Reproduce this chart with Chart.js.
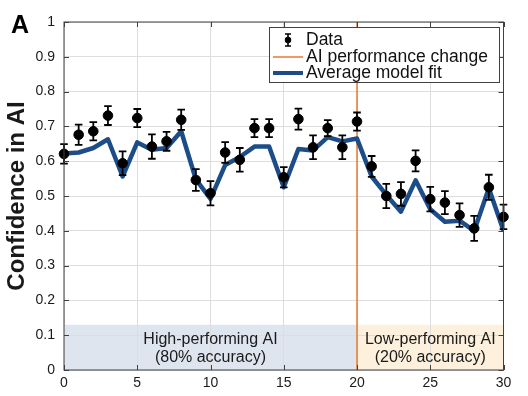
<!DOCTYPE html>
<html>
<head>
<meta charset="utf-8">
<script src="https://cdn.jsdelivr.net/npm/chart.js@4.4.0/dist/chart.umd.min.js"></script>
<style>
    html, body { margin: 0; padding: 0; background: #fff; }
    #wrap { width: 528px; height: 396px; }
</style>
</head>
<body>
<div id="wrap"><canvas id="myChart" width="528" height="396"></canvas></div>
<script>

// trial numbers along the x axis
const trials = [0, 1, 2, 3, 4, 5, 6, 7, 8, 9, 10, 11, 12, 13, 14, 15, 16, 17, 18, 19, 20, 21, 22, 23, 24, 25, 26, 27, 28, 29, 30];

// mean confidence in AI per trial (black dots) and error bar half heights
const confidence = [0.621, 0.676, 0.686, 0.731, 0.594, 0.724, 0.642, 0.657, 0.719, 0.546, 0.508, 0.625, 0.604, 0.695, 0.695, 0.554, 0.721, 0.640, 0.695, 0.640, 0.714, 0.585, 0.500, 0.506, 0.601, 0.491, 0.481, 0.445, 0.407, 0.525, 0.440];
const confidenceErr = [0.028, 0.029, 0.026, 0.027, 0.034, 0.026, 0.035, 0.027, 0.029, 0.031, 0.035, 0.030, 0.034, 0.026, 0.026, 0.029, 0.030, 0.034, 0.023, 0.034, 0.026, 0.030, 0.035, 0.034, 0.030, 0.035, 0.033, 0.034, 0.036, 0.036, 0.035];

// average model fit (blue line)
const modelFit = [0.622, 0.625, 0.638, 0.663, 0.556, 0.654, 0.633, 0.638, 0.686, 0.548, 0.492, 0.589, 0.612, 0.642, 0.642, 0.525, 0.635, 0.631, 0.669, 0.657, 0.665, 0.556, 0.503, 0.455, 0.545, 0.462, 0.426, 0.429, 0.400, 0.522, 0.400];

// where the AI switches from high to low performance
const changeTrial = 20;
const xTicks = [0, 5, 10, 15, 20, 25, 30];
const yTicks = [0, 0.1, 0.2, 0.3, 0.4, 0.5, 0.6, 0.7, 0.8, 0.9, 1];

// shaded phases at the bottom of the plot
const phases = [
    { from: 0, to: 20, top: 0.13, fill: '#dfe5ef', lines: ['High-performing AI', '(80% accuracy)'] },
    { from: 20, to: 30, top: 0.13, fill: '#fdf0dd', lines: ['Low-performing AI', '(20% accuracy)'] }
];

const legendItems = ['Data', 'AI performance change', 'Average model fit'];

const FONT = "'Liberation Sans', Arial, Helvetica, sans-serif";
const ORANGE = '#e8782f';
const BLUE = '#1d4d88';
const AXIS = '#404040';

Chart.defaults.font.family = FONT;

// phase shading goes under the grid lines
const phasePlugin = {
    id: 'phases',
    beforeDraw(chart) {
        const { ctx, scales: { x, y } } = chart;
        ctx.save();
        phases.forEach(p => {
            ctx.fillStyle = p.fill;
            ctx.fillRect(x.getPixelForValue(p.from), y.getPixelForValue(p.top),
                x.getPixelForValue(p.to) - x.getPixelForValue(p.from), y.getPixelForValue(0) - y.getPixelForValue(p.top));
        });
        ctx.restore();
    },
    beforeDatasetsDraw(chart) {
        const { ctx, scales: { x, y } } = chart;
        ctx.save();
        ctx.font = '16px ' + FONT;
        ctx.fillStyle = '#1a1a1a';
        ctx.textAlign = 'center';
        ctx.textBaseline = 'middle';
        phases.forEach(p => {
            const cx = x.getPixelForValue((p.from + p.to) / 2);
            ctx.fillText(p.lines[0], cx, y.getPixelForValue(0.088));
            ctx.fillText(p.lines[1], cx, y.getPixelForValue(0.036));
        });
        ctx.restore();
    }
};

// error bars, box, inward ticks, legend and panel letter
const decorPlugin = {
    id: 'decor',
    afterDatasetsDraw(chart) {
        const { ctx, scales: { x, y } } = chart;
        ctx.save();
        ctx.strokeStyle = '#000';
        ctx.lineWidth = 1.8;
        for (let i = 0; i < trials.length; i++) {
            const px = x.getPixelForValue(trials[i]);
            const top = y.getPixelForValue(confidence[i] + confidenceErr[i]);
            const bot = y.getPixelForValue(confidence[i] - confidenceErr[i]);
            ctx.beginPath();
            ctx.moveTo(px, top); ctx.lineTo(px, bot);
            ctx.moveTo(px - 3.8, top); ctx.lineTo(px + 3.8, top);
            ctx.moveTo(px - 3.8, bot); ctx.lineTo(px + 3.8, bot);
            ctx.stroke();
        }
        ctx.restore();
    },
    afterDraw(chart) {
        const { ctx, chartArea: a, scales: { x, y } } = chart;
        ctx.save();

        // axes box with inward ticks on all four sides
        ctx.strokeStyle = AXIS;
        ctx.lineWidth = 1;
        ctx.strokeRect(a.left, a.top, a.right - a.left, a.bottom - a.top);
        ctx.beginPath();
        xTicks.forEach(v => {
            const px = Math.round(x.getPixelForValue(v)) + 0.5;
            ctx.moveTo(px, a.bottom); ctx.lineTo(px, a.bottom - 5);
            ctx.moveTo(px, a.top); ctx.lineTo(px, a.top + 5);
        });
        yTicks.forEach(v => {
            const py = Math.round(y.getPixelForValue(v)) + 0.5;
            ctx.moveTo(a.left, py); ctx.lineTo(a.left + 5, py);
            ctx.moveTo(a.right, py); ctx.lineTo(a.right - 5, py);
        });
        ctx.stroke();

        // legend box in the top right corner
        const lx = 269, ly = 27, lw = 230, lh = 55;
        ctx.fillStyle = '#fff';
        ctx.fillRect(lx, ly, lw, lh);
        ctx.strokeStyle = AXIS;
        ctx.strokeRect(lx + 0.5, ly + 0.5, lw, lh);

        const rows = [40, 57, 73];
        ctx.font = '17.5px ' + FONT;
        ctx.fillStyle = '#111';
        ctx.textBaseline = 'middle';
        legendItems.forEach((t, i) => ctx.fillText(t, 306, rows[i]));

        // data marker sample
        ctx.strokeStyle = '#000';
        ctx.lineWidth = 1.6;
        ctx.beginPath();
        ctx.moveTo(288, rows[0] - 6); ctx.lineTo(288, rows[0] + 6);
        ctx.moveTo(285, rows[0] - 6); ctx.lineTo(291, rows[0] - 6);
        ctx.moveTo(285, rows[0] + 6); ctx.lineTo(291, rows[0] + 6);
        ctx.stroke();
        ctx.fillStyle = '#000';
        ctx.beginPath();
        ctx.arc(288, rows[0], 3.2, 0, Math.PI * 2);
        ctx.fill();

        // line samples
        ctx.strokeStyle = ORANGE;
        ctx.lineWidth = 1.5;
        ctx.beginPath(); ctx.moveTo(273, rows[1]); ctx.lineTo(303, rows[1]); ctx.stroke();
        ctx.strokeStyle = BLUE;
        ctx.lineWidth = 4;
        ctx.beginPath(); ctx.moveTo(273, rows[2]); ctx.lineTo(303, rows[2]); ctx.stroke();

        // panel letter
        ctx.fillStyle = '#000';
        ctx.font = 'bold 25px ' + FONT;
        ctx.textBaseline = 'alphabetic';
        ctx.fillText('A', 11, 33);
        ctx.restore();
    }
};

const ctx = document.getElementById('myChart');
const chart = new Chart(ctx, {
    type: 'scatter',
    data: {
        datasets: [
            {
                label: 'Data',
                data: trials.map((t, i) => ({ x: t, y: confidence[i] })),
                backgroundColor: '#000',
                borderColor: '#000',
                pointRadius: 4.8,
                pointHoverRadius: 4.8,
                clip: false,
                order: 0
            },
            {
                label: 'Average model fit',
                data: trials.map((t, i) => ({ x: t, y: modelFit[i] })),
                showLine: true,
                borderColor: BLUE,
                borderWidth: 4.5,
                borderJoinStyle: 'round',
                pointRadius: 0,
                order: 1
            },
            {
                label: 'AI performance change',
                data: [{ x: changeTrial, y: 0 }, { x: changeTrial, y: 1 }],
                showLine: true,
                borderColor: ORANGE,
                borderWidth: 1.5,
                pointRadius: 0,
                order: 2
            }
        ]
    },
    options: {
        responsive: false,
        animation: false,
        layout: { padding: { left: 0, top: 22, right: 24.5, bottom: 0 } },
        plugins: { legend: { display: false }, tooltip: { enabled: false } },
        scales: {
            x: {
                type: 'linear',
                min: 0,
                max: 30,
                afterFit: s => { s.height = 26; },
                afterBuildTicks: s => { s.ticks = xTicks.map(v => ({ value: v })); },
                ticks: { font: { size: 14 }, color: '#1a1a1a', padding: 5, maxRotation: 0 },
                grid: { color: '#dddddd', drawTicks: false },
                border: { display: false }
            },
            y: {
                min: 0,
                max: 1,
                afterFit: s => { s.width = 64; },
                afterBuildTicks: s => { s.ticks = yTicks.map(v => ({ value: v })); },
                ticks: {
                    font: { size: 14 },
                    color: '#1a1a1a',
                    padding: 9,
                    callback: v => (v === 0 || v === 1) ? String(v) : v.toFixed(1)
                },
                grid: { color: '#dddddd', drawTicks: false },
                border: { display: false },
                title: {
                    display: true,
                    text: 'Confidence in AI',
                    font: { size: 24, weight: 'bold' },
                    color: '#1a1a1a',
                    padding: { top: 3, bottom: 0 }
                }
            }
        }
    },
    plugins: [phasePlugin, decorPlugin]
});
</script>
</body>
</html>
